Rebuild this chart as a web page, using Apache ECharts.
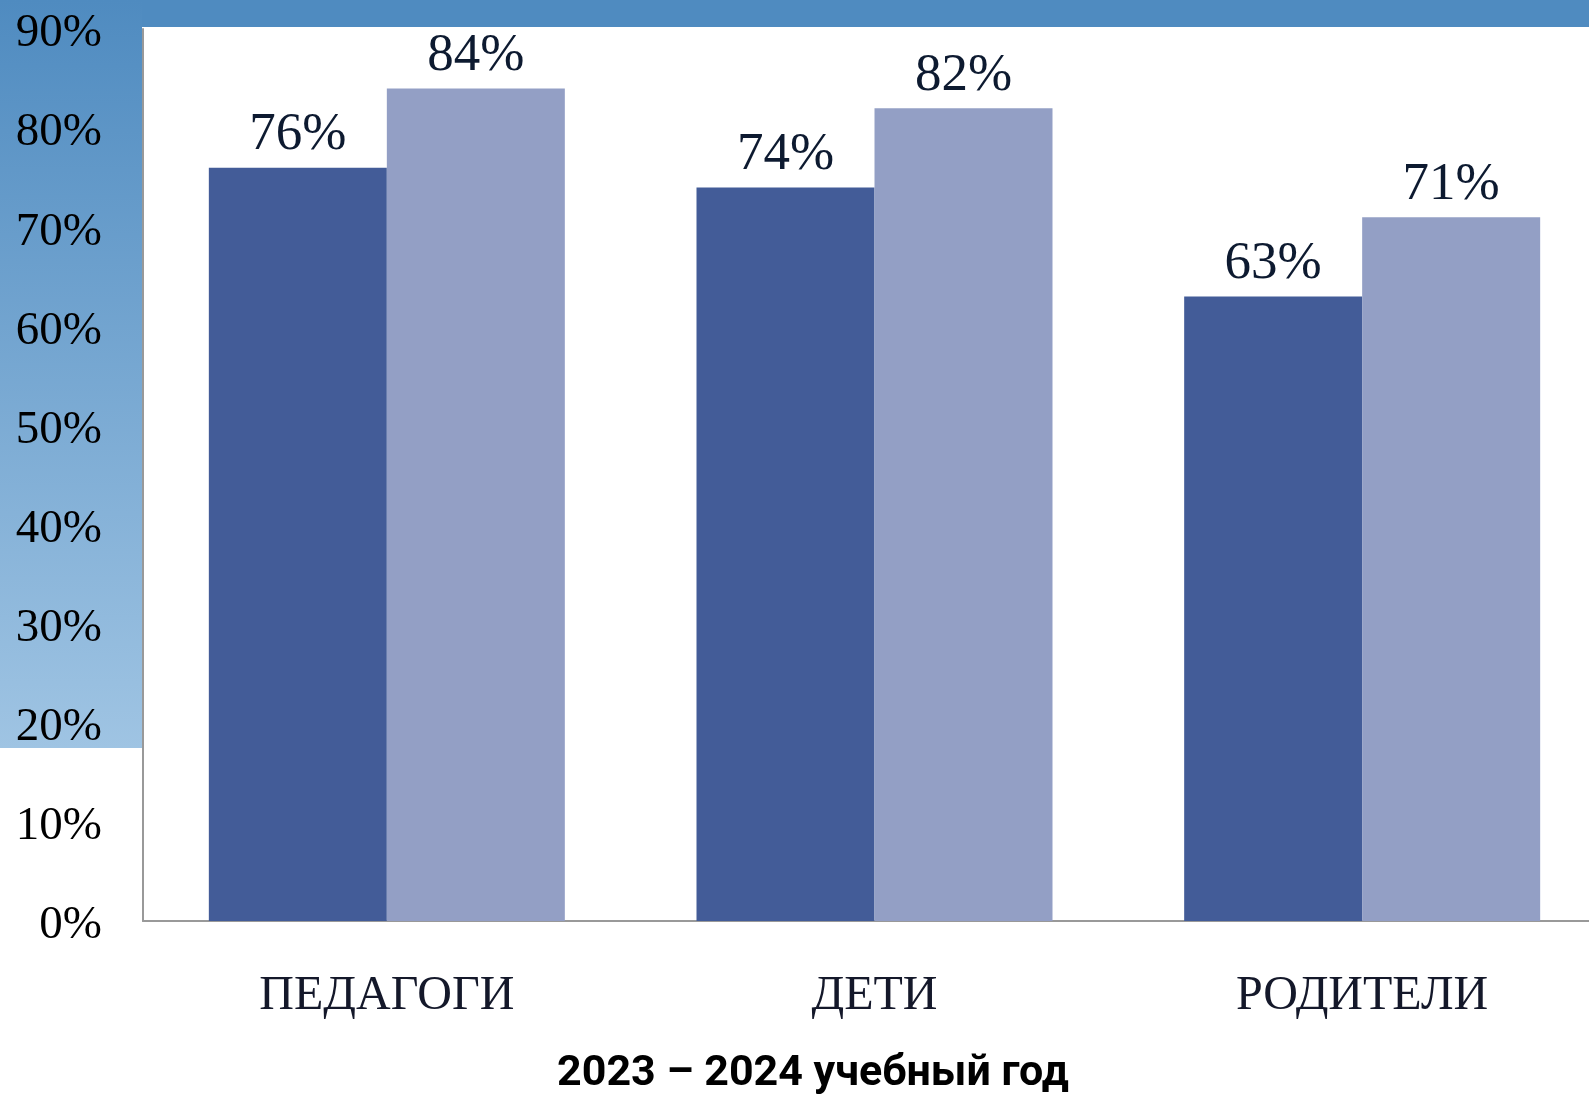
<!DOCTYPE html>
<html>
<head>
<meta charset="utf-8">
<script src="https://cdn.jsdelivr.net/npm/echarts@6/dist/echarts.min.js"></script>
<style>html,body{margin:0;padding:0;background:#fff;overflow:hidden;}#c{width:1620px;height:1094px;}</style>
</head>
<body>
<div id="c"></div>
<script>
const categories = ['ПЕДАГОГИ', 'ДЕТИ', 'РОДИТЕЛИ'];
const seriesA = [76, 74, 63];
const seriesB = [84, 82, 71];
const yTicks = [0, 10, 20, 30, 40, 50, 60, 70, 80, 90];
const title = '2023 – 2024 учебный год';

const chart = echarts.init(document.getElementById('c'));
const labelStyle = {
  show: true, position: 'top', distance: 6,
  formatter: p => p.value + '%',
  fontFamily: 'Liberation Serif', fontSize: 53, color: '#0d1a30'
};
chart.setOption({
  animation: false,
  graphic: [
    { type: 'rect', z: -10, shape: { x: 0, y: 0, width: 1620, height: 27 }, style: { fill: '#4f8bc0' } },
    { type: 'rect', z: -10, shape: { x: 0, y: 0, width: 142, height: 748 },
      style: { fill: new echarts.graphic.LinearGradient(0, 0, 0, 1, [
        { offset: 0, color: '#4f8bc0' }, { offset: 1, color: '#9fc4e3' }]) } }
  ],
  title: {
    text: title, left: 808, top: 1048, textAlign: 'center',
    textStyle: { fontFamily: 'Roboto', fontWeight: 'bold', fontSize: 43, color: '#000' }
  },
  grid: { left: 143, top: 29, width: 1463, height: 892, containLabel: false },
  xAxis: {
    type: 'category', data: categories,
    axisLine: { lineStyle: { color: '#999', width: 2 } },
    axisTick: { show: false },
    axisLabel: { margin: 51, fontFamily: 'Liberation Serif', fontSize: 48, color: '#14182a' }
  },
  yAxis: {
    type: 'value', min: 0, max: 90, interval: 10,
    axisLine: { show: true, lineStyle: { color: '#999', width: 2 } },
    axisTick: { show: false },
    splitLine: { show: false },
    axisLabel: {
      margin: 41, verticalAlign: 'top', lineHeight: 10,
      fontFamily: 'Liberation Serif', fontSize: 47, color: '#000',
      formatter: v => yTicks.includes(v) ? v + '%' : ''
    }
  },
  series: [
    { type: 'bar', data: seriesA, barGap: '0%', barCategoryGap: '27%',
      itemStyle: { color: '#435c98' }, label: labelStyle },
    { type: 'bar', data: seriesB,
      itemStyle: { color: '#939fc5' }, label: labelStyle }
  ]
});
</script>
</body>
</html>
